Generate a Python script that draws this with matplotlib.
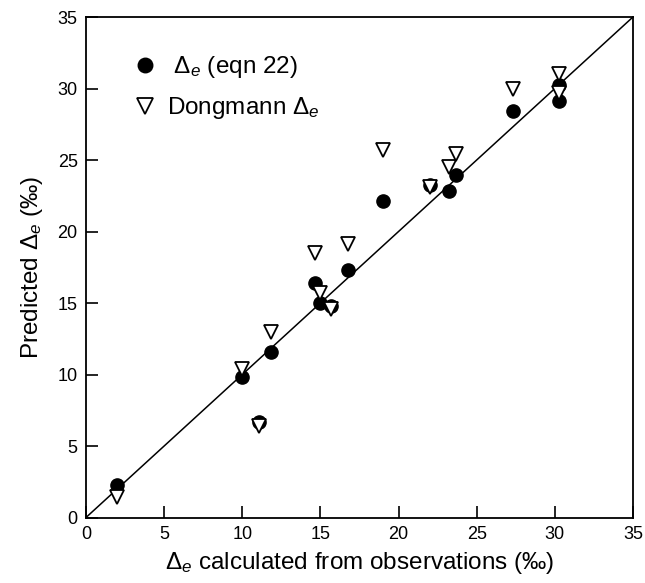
import matplotlib.pyplot as plt
import numpy as np

plt.rcParams['font.family'] = ['Liberation Sans', 'DejaVu Sans']
plt.rcParams['mathtext.fontset'] = 'custom'
plt.rcParams['mathtext.rm'] = 'Liberation Sans'
plt.rcParams['mathtext.it'] = 'Liberation Sans:italic'

# observed delta_e, predicted by eqn 22, and Dongmann prediction
obs = [2.0, 10.0, 11.1, 11.85, 14.65, 14.95, 15.65, 16.75, 19.0, 22.0, 23.2, 23.65, 27.3, 30.3, 30.3]
eqn22 = [2.25, 9.8, 6.65, 11.6, 16.4, 15.0, 14.8, 17.3, 22.15, 23.25, 22.85, 23.95, 28.45, 30.25, 29.1]
dongmann = [1.45, 10.4, 6.4, 13.0, 18.5, 15.7, 14.6, 19.1, 25.7, 23.1, 24.5, 25.45, 29.95, 31.0, 29.7]

fig = plt.figure(figsize=(6.45, 5.83), dpi=100)
ax = fig.add_axes([0.1333, 0.1123, 0.848, 0.8585])

ax.plot([0, 35], [0, 35], color='black', lw=1.1, zorder=1)
ax.plot(obs, eqn22, 'o', color='black', markersize=9.5, label=r' $\Delta_e$ (eqn 22)', zorder=2)
ax.plot(obs, dongmann, 'v', markerfacecolor='white', markeredgecolor='black', markeredgewidth=1.3,
        markersize=10, label=r'Dongmann $\Delta_e$', zorder=3)

ax.set_xlim(0, 35)
ax.set_ylim(0, 35)
ax.set_xticks([0, 5, 10, 15, 20, 25, 30, 35])
ax.set_yticks([0, 5, 10, 15, 20, 25, 30, 35])
ax.tick_params(direction='in', length=8.5, width=1.2, labelsize=13, pad=6)
for s in ax.spines.values():
    s.set_linewidth(1.3)

ax.set_xlabel(r'$\Delta_e$ calculated from observations (‰)', fontsize=17.5, labelpad=5)
ax.set_ylabel(r'Predicted $\Delta_e$ (‰)', fontsize=17.5, labelpad=9)

ax.legend(loc='upper left', bbox_to_anchor=(0.064, 0.95), frameon=False, fontsize=17.5,
          borderpad=0, handletextpad=0.4, labelspacing=0.62, handlelength=1.0, markerscale=1.1)

plt.savefig('out.png', dpi=100)
